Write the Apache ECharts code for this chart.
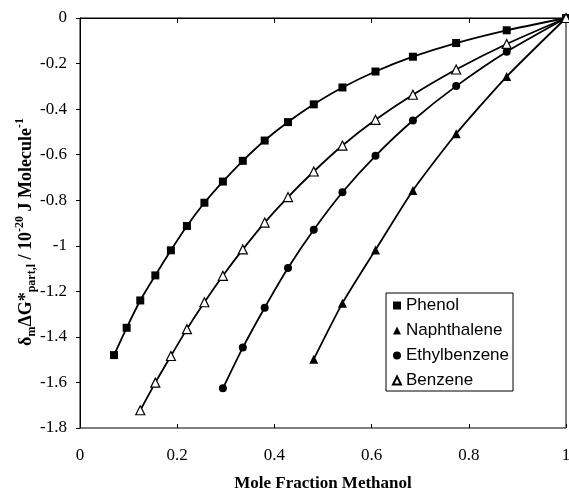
<!DOCTYPE html>
<html><head><meta charset="utf-8">
<script src="https://cdn.jsdelivr.net/npm/echarts@6/dist/echarts.min.js"></script>
<style>html,body{margin:0;padding:0;background:#fff}#c{width:569px;height:493px}</style>
</head><body><div id="c"></div>
<script>
const xTicks = [0, 0.2, 0.4, 0.6, 0.8, 1];
const yTicks = [-1.8, -1.6, -1.4, -1.2, -1, -0.8, -0.6, -0.4, -0.2, 0];
const phenolX = [0.07, 0.096, 0.124, 0.155, 0.187, 0.220, 0.256, 0.294, 0.335, 0.380, 0.428, 0.481, 0.540, 0.608, 0.685, 0.774, 0.878, 1.0];
const phenolY = [-1.48, -1.36, -1.24, -1.13, -1.02, -0.913, -0.811, -0.718, -0.627, -0.538, -0.457, -0.379, -0.305, -0.235, -0.170, -0.110, -0.054, 0];
const benzeneX = [0.124, 0.155, 0.187, 0.220, 0.256, 0.294, 0.335, 0.380, 0.428, 0.481, 0.540, 0.608, 0.685, 0.774, 0.878, 1.0];
const benzeneY = [-1.722, -1.601, -1.484, -1.366, -1.248, -1.132, -1.016, -0.898, -0.786, -0.674, -0.560, -0.447, -0.337, -0.226, -0.114, 0];
const ethylX = [0.294, 0.335, 0.380, 0.428, 0.481, 0.540, 0.608, 0.685, 0.774, 0.878, 1.0];
const ethylY = [-1.626, -1.447, -1.272, -1.098, -0.930, -0.765, -0.605, -0.450, -0.299, -0.148, 0];
const naphX = [0.481, 0.540, 0.608, 0.685, 0.774, 0.878, 1.0];
const naphY = [-1.498, -1.252, -1.018, -0.757, -0.508, -0.257, 0];

const zip = (xs, ys) => xs.map((x, i) => [x, ys[i]]);
const serif = 'Liberation Serif';

function mk(name, xs, ys, symbol, size, fill) {
  return {
    name, type: 'line', data: zip(xs, ys), symbol, symbolSize: size, smooth: 0.2,
    lineStyle: { color: '#000', width: 1.8 },
    itemStyle: { color: fill, borderColor: '#000', borderWidth: fill === '#fff' ? 1.2 : 0 },
    emphasis: { disabled: true }, z: fill === '#fff' ? 3 : 2
  };
}

const chart = echarts.init(document.getElementById('c'), null, { renderer: 'canvas' });
chart.setOption({
  backgroundColor: '#fff',
  animation: false,
  grid: { left: 80, top: 18, right: 3, bottom: 65, show: true, borderColor: '#000', borderWidth: 1,
    containLabel: false, outerBoundsMode: 'none' },
  xAxis: [{
    type: 'value', min: 0, max: 1, interval: 0.2,
    name: 'Mole Fraction Methanol', nameLocation: 'middle', nameGap: 47, nameMoveOverlap: false,
    nameTextStyle: { fontFamily: serif, fontWeight: 'bold', fontSize: 17, color: '#000' },
    axisLine: { lineStyle: { color: '#000', width: 1 } },
    axisTick: { length: 5, lineStyle: { color: '#000' } },
    axisLabel: { fontFamily: serif, fontSize: 17, color: '#000', margin: 19,
      formatter: v => String(+v.toFixed(1)) },
    splitLine: { show: false }
  }, {
    type: 'value', min: 0, max: 1, interval: 0.2, position: 'bottom',
    axisLine: { show: false }, axisLabel: { show: false }, splitLine: { show: false },
    axisTick: { inside: true, length: 4, lineStyle: { color: '#000' } }
  }],
  yAxis: {
    type: 'value', min: -1.8, max: 0, interval: 0.2,
    name: '{n|δ}{s|m}{n|ΔG*}{s|part,l}{n| / 10}{p|-20}{n| J Molecule}{p|-1}',
    nameLocation: 'middle', nameRotate: 90, nameGap: 42, nameMoveOverlap: false,
    nameTextStyle: {
      color: '#000', padding: [0, 18, 0, 0],
      rich: {
        n: { fontFamily: serif, fontWeight: 'bold', fontSize: 18, color: '#000', lineHeight: 24, verticalAlign: 'middle' },
        s: { fontFamily: serif, fontWeight: 'bold', fontSize: 12, color: '#000', lineHeight: 24, verticalAlign: 'bottom' },
        p: { fontFamily: serif, fontWeight: 'bold', fontSize: 12, color: '#000', lineHeight: 24, verticalAlign: 'top' }
      }
    },
    axisLine: { show: true, lineStyle: { color: '#000', width: 1 } },
    axisTick: { show: true, length: 4, lineStyle: { color: '#000' } },
    axisLabel: { fontFamily: serif, fontSize: 17, color: '#000', margin: 13,
      formatter: v => String(+v.toFixed(1)) },
    splitLine: { show: false }
  },
  legend: {
    orient: 'vertical', left: 386, top: 293,
    backgroundColor: '#fff', borderColor: '#000', borderWidth: 1,
    padding: [4, 4, 2, 6], itemGap: 8, itemWidth: 8, itemHeight: 8,
    textStyle: { fontFamily: 'Liberation Sans', fontSize: 17, color: '#000' },
    data: [
      { name: 'Phenol', icon: 'rect' },
      { name: 'Naphthalene', icon: 'triangle' },
      { name: 'Ethylbenzene', icon: 'circle' },
      { name: 'Benzene', icon: 'triangle' }
    ]
  },
  series: [
    mk('Phenol', phenolX, phenolY, 'rect', 8, '#000'),
    mk('Naphthalene', naphX, naphY, 'triangle', 9, '#000'),
    mk('Ethylbenzene', ethylX, ethylY, 'circle', 8, '#000'),
    mk('Benzene', benzeneX, benzeneY, 'triangle', 9, '#fff')
  ]
});
</script></body></html>
